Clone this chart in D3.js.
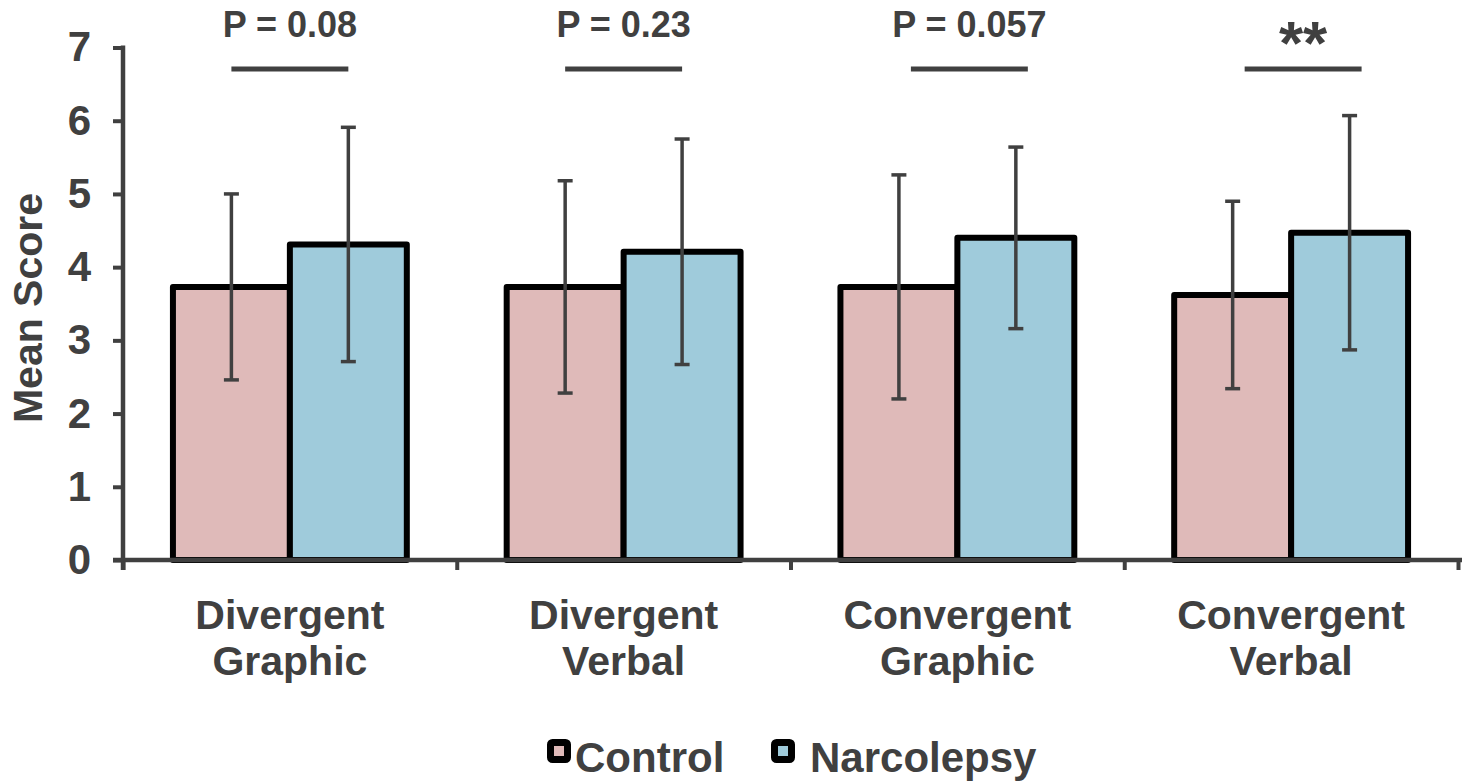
<!DOCTYPE html>
<html>
<head>
<meta charset="utf-8">
<script src="https://cdn.jsdelivr.net/npm/d3@7"></script>
<style>
  body { margin: 0; background: #fff; }
  svg text { font-family: "Liberation Sans", Arial, Helvetica, sans-serif; font-weight: bold; fill: #404040; }
</style>
</head>
<body>
<div id="chart"></div>
<script>
// data
var categories = [["Divergent", "Graphic"], ["Divergent", "Verbal"], ["Convergent", "Graphic"], ["Convergent", "Verbal"]];
var groups = ["Control", "Narcolepsy"];
var controlMean = [3.73, 3.73, 3.73, 3.62];
var controlSD   = [1.27, 1.45, 1.53, 1.28];
var narcMean    = [4.31, 4.21, 4.40, 4.47];
var narcSD      = [1.60, 1.54, 1.24, 1.60];
var sigLabels   = ["P = 0.08", "P = 0.23", "P = 0.057", "**"];
var yTicks      = [0, 1, 2, 3, 4, 5, 6, 7];

var colors = { Control: "#dfbab9", Narcolepsy: "#9fcbdb" };
var ink = "#404040";

var width = 1462, height = 781;
var plotLeft = 123, plotRight = 1458, plotTop = 47.5, plotBottom = 560;

var svg = d3.select("#chart").append("svg")
  .attr("width", width)
  .attr("height", height);

var x = d3.scaleBand().domain(d3.range(categories.length)).range([plotLeft, plotRight]).padding(0);
var xs = d3.scaleBand().domain(groups).range([0, x.bandwidth()]).paddingInner(0).paddingOuter(0.427);
var y = d3.scaleLinear().domain([0, 7]).range([plotBottom, plotTop]);
var xEdge = d3.scaleLinear().domain([0, categories.length]).range([plotLeft, plotRight]);

var rows = categories.map(function(c, i) {
  return {
    i: i,
    values: [
      { key: "Control", mean: controlMean[i], sd: controlSD[i] },
      { key: "Narcolepsy", mean: narcMean[i], sd: narcSD[i] }
    ]
  };
});

// bars
var g = svg.selectAll(".group")
  .data(rows)
  .enter().append("g")
  .attr("class", "group")
  .attr("transform", function(d) { return "translate(" + x(d.i) + ",0)"; });

g.selectAll("rect")
  .data(function(d) { return d.values; })
  .enter().append("rect")
  .attr("x", function(d) { return xs(d.key); })
  .attr("width", xs.bandwidth())
  .attr("y", function(d) { return y(d.mean); })
  .attr("height", function(d) { return y(0) - y(d.mean); })
  .attr("fill", function(d) { return colors[d.key]; })
  .attr("stroke", "#000")
  .attr("stroke-width", 6)
  .attr("stroke-linejoin", "round");

// error bars
var eb = g.selectAll(".err")
  .data(function(d) { return d.values; })
  .enter().append("g")
  .attr("class", "err")
  .attr("stroke", ink)
  .attr("stroke-width", 3.5);

eb.append("line")
  .attr("x1", function(d) { return xs(d.key) + xs.bandwidth() / 2; })
  .attr("x2", function(d) { return xs(d.key) + xs.bandwidth() / 2; })
  .attr("y1", function(d) { return y(d.mean - d.sd); })
  .attr("y2", function(d) { return y(d.mean + d.sd); });

eb.selectAll(".cap")
  .data(function(d) { return [d.mean - d.sd, d.mean + d.sd].map(function(v) { return { key: d.key, v: v }; }); })
  .enter().append("line")
  .attr("class", "cap")
  .attr("x1", function(d) { return xs(d.key) + xs.bandwidth() / 2 - 7.5; })
  .attr("x2", function(d) { return xs(d.key) + xs.bandwidth() / 2 + 7.5; })
  .attr("y1", function(d) { return y(d.v); })
  .attr("y2", function(d) { return y(d.v); });

// significance lines and labels
var shift = [0, 0, 12, 12];
var sig = g.append("g").attr("class", "sig");
sig.append("line")
  .attr("x1", function(d) { return xs("Control") + xs.bandwidth() / 2 + shift[d.i]; })
  .attr("x2", function(d) { return xs("Narcolepsy") + xs.bandwidth() / 2 + shift[d.i]; })
  .attr("y1", 69).attr("y2", 69)
  .attr("stroke", ink)
  .attr("stroke-width", 5);
sig.append("text")
  .attr("x", function(d) { return x.bandwidth() / 2 + shift[d.i]; })
  .attr("y", function(d) { return sigLabels[d.i] === "**" ? 64 : 37; })
  .attr("text-anchor", "middle")
  .style("font-size", function(d) { return sigLabels[d.i] === "**" ? "62px" : "36px"; })
  .text(function(d) { return sigLabels[d.i]; });

// y axis
var yAxis = svg.append("g")
  .attr("transform", "translate(" + plotLeft + ",0)")
  .call(d3.axisLeft(y).tickValues(yTicks).tickFormat(d3.format("d"))
    .tickSize(10).tickSizeOuter(0).tickPadding(22));
yAxis.select(".domain").remove();
yAxis.selectAll(".tick line").attr("stroke", ink).attr("stroke-width", 4);
yAxis.selectAll(".tick text")
  .style("font-size", "42px")
  .attr("fill", ink);
yAxis.append("line")
  .attr("x1", 0).attr("x2", 0)
  .attr("y1", plotTop - 2).attr("y2", plotBottom + 10)
  .attr("stroke", ink).attr("stroke-width", 4.5);

// x axis
var xAxis = svg.append("g")
  .attr("transform", "translate(0," + plotBottom + ")")
  .call(d3.axisBottom(xEdge).ticks(categories.length).tickSize(10).tickFormat(""));
xAxis.select(".domain").remove();
xAxis.selectAll(".tick line").attr("stroke", ink).attr("stroke-width", 4);
xAxis.append("line")
  .attr("x1", plotLeft - 10).attr("x2", width)
  .attr("y1", 0).attr("y2", 0)
  .attr("stroke", ink).attr("stroke-width", 4.5);

// category labels
var cl = svg.selectAll(".cat")
  .data(categories)
  .enter().append("text")
  .attr("class", "cat")
  .attr("text-anchor", "middle")
  .style("font-size", "41px")
  .attr("transform", function(d, i) { return "translate(" + (x(i) + x.bandwidth() / 2) + ",0)"; });
cl.selectAll("tspan")
  .data(function(d) { return d; })
  .enter().append("tspan")
  .attr("x", 0)
  .attr("y", function(d, j) { return 629 + j * 46; })
  .text(function(d) { return d; });

// y title
svg.append("text")
  .attr("transform", "translate(42,308) rotate(-90)")
  .attr("text-anchor", "middle")
  .style("font-size", "41px")
  .text("Mean Score");

// legend
var legendX = [550.5, 774.5];
var legendTextX = [575, 810];
var lg = svg.selectAll(".legend")
  .data(groups)
  .enter().append("g")
  .attr("class", "legend");
lg.append("rect")
  .attr("x", function(d, i) { return legendX[i]; })
  .attr("y", 742.5)
  .attr("width", 17).attr("height", 17)
  .attr("fill", function(d) { return colors[d]; })
  .attr("stroke", "#000")
  .attr("stroke-width", 7)
  .attr("rx", 2);
lg.append("text")
  .attr("x", function(d, i) { return legendTextX[i]; })
  .attr("y", 772)
  .style("font-size", "42px")
  .text(function(d) { return d; });
</script>
</body>
</html>
